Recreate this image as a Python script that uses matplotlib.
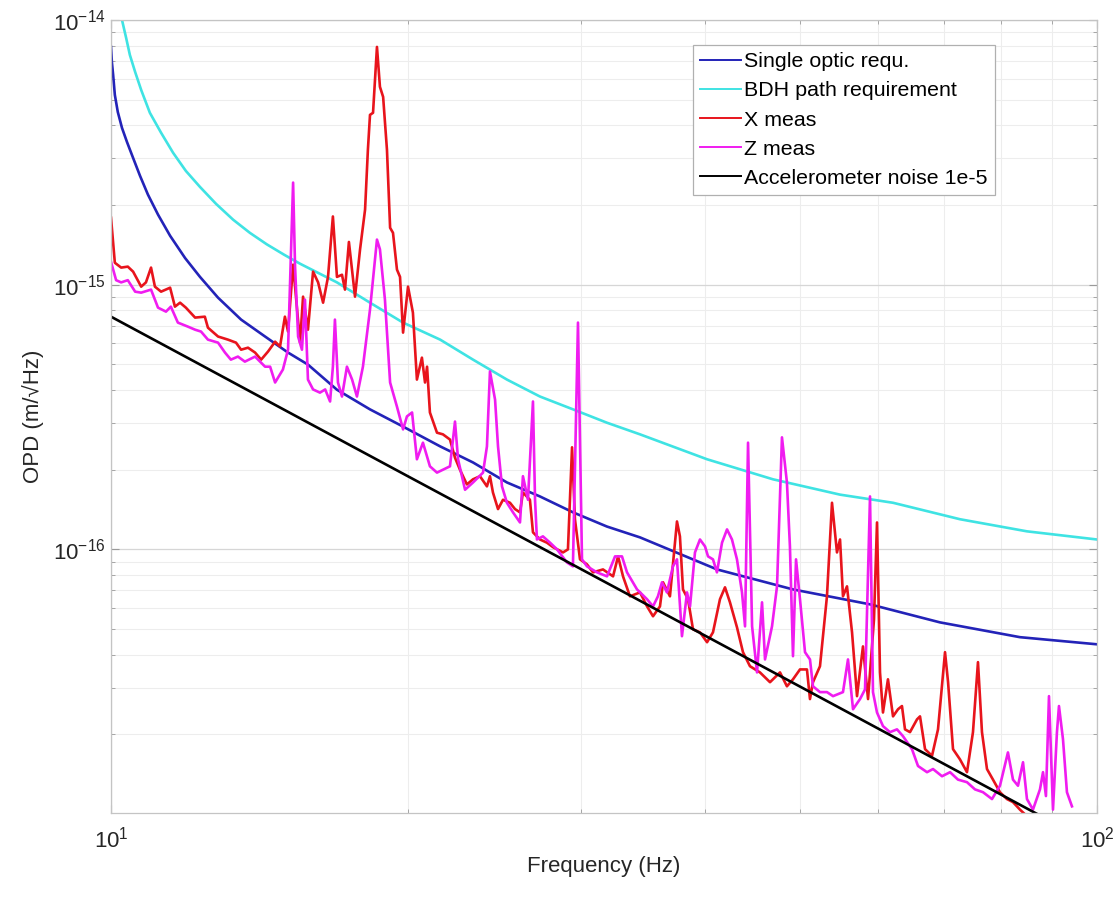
import numpy as np
import matplotlib
matplotlib.use("Agg")
import matplotlib.pyplot as plt
from matplotlib.ticker import FixedLocator, LogLocator, LogFormatterMathtext, NullFormatter

OUT_FILE = "out.png"
UNIT = 1e-16  # OPD values below are in units of 1e-16 m/sqrt(Hz)

# Single optic requirement (blue)
freq_single = [10.00, 10.02, 10.05, 10.09, 10.16, 10.26, 10.38, 10.53, 10.70, 10.90,
               11.16, 11.48, 11.89, 12.31, 12.84, 13.55, 14.33, 15.12, 15.84, 16.95,
               18.31, 19.78, 21.57, 23.29, 25.21, 27.23, 29.42, 31.84, 34.40, 41.18,
               49.17, 58.86, 69.31, 83.54, 100.0]
opd_single = [79.1, 69.4, 62.0, 52.1, 44.9, 39.1, 34.6, 30.1, 25.8, 21.9,
              18.4, 15.3, 12.6, 10.7, 8.93, 7.38, 6.37, 5.54, 4.99, 4.01,
              3.38, 2.91, 2.45, 2.13, 1.79, 1.585, 1.38, 1.22, 1.11, 0.840,
              0.706, 0.620, 0.530, 0.466, 0.438]

# BDH path requirement (cyan)
freq_bdh = [10.26, 10.36, 10.45, 10.58, 10.73, 10.95, 11.24, 11.56, 11.91, 12.31,
            12.78, 13.30, 13.83, 14.39, 14.98, 15.55, 16.95, 18.31, 19.78, 21.57,
            23.29, 25.21, 27.23, 29.42, 31.84, 34.40, 40.23, 46.92, 54.88, 62.11,
            72.62, 84.92, 100.0]
opd_bdh = [100.0, 85.5, 73.8, 63.6, 54.4, 44.6, 37.5, 31.5, 26.9, 23.4,
           20.2, 17.6, 15.7, 14.2, 12.98, 12.0, 10.2, 8.55, 7.19, 6.20,
           5.21, 4.38, 3.78, 3.38, 3.01, 2.72, 2.19, 1.84, 1.61, 1.50,
           1.30, 1.17, 1.09]

# X meas (red)
freq_x = [10.00, 10.09, 10.24, 10.40, 10.53, 10.73, 10.85, 10.98, 11.08, 11.24,
          11.48, 11.61, 11.75, 11.91, 12.17, 12.45, 12.54, 12.84, 13.14, 13.39,
          13.55, 13.77, 14.00, 14.20, 14.43, 14.67, 14.84, 15.01, 15.12, 15.30,
          15.55, 15.66, 15.84, 16.03, 16.22, 16.41, 16.60, 16.79, 16.95, 17.15,
          17.27, 17.43, 17.68, 17.89, 18.10, 18.22, 18.31, 18.44, 18.61, 18.74,
          18.88, 19.05, 19.19, 19.32, 19.50, 19.64, 19.78, 20.01, 20.24, 20.43,
          20.67, 20.82, 20.92, 21.06, 21.41, 21.71, 22.07, 22.33, 22.59, 22.96,
          23.29, 23.67, 24.06, 24.23, 24.40, 24.69, 24.98, 25.39, 25.69, 25.99,
          26.17, 26.60, 26.79, 27.23, 27.68, 28.07, 28.74, 29.07, 29.35, 29.55,
          29.90, 30.39, 30.82, 31.55, 32.30, 32.68, 33.06, 33.60, 34.40, 34.97,
          35.46, 36.04, 36.30, 36.89, 37.50, 37.76, 38.03, 38.48, 38.93, 39.57,
          40.23, 40.79, 41.46, 41.95, 42.44, 43.14, 43.75, 44.47, 45.52, 46.60,
          47.70, 48.48, 49.17, 49.98, 50.80, 51.16, 51.52, 52.37, 53.23, 53.86,
          54.49, 54.88, 55.26, 55.78, 56.44, 57.10, 57.90, 58.59, 59.41, 59.83,
          60.25, 60.67, 61.38, 62.11, 62.84, 63.42, 63.87, 64.62, 65.69, 66.15,
          66.93, 68.03, 68.99, 70.13, 70.63, 71.45, 72.62, 73.82, 74.86, 75.74,
          76.45, 77.35, 78.44, 79.73, 81.04, 82.19, 83.54, 85.52]
opd_x = [17.9, 12.1, 11.6, 11.7, 11.2, 9.83, 10.2, 11.6, 9.83, 9.41,
         9.74, 8.26, 8.55, 8.19, 7.51, 7.57, 6.88, 6.37, 6.20, 6.04,
         5.68, 5.78, 5.54, 5.21, 5.59, 6.09, 5.84, 7.57, 6.65, 11.9,
         6.04, 9.01, 6.76, 11.2, 10.2, 8.55, 10.7, 18.1, 10.7, 10.9,
         9.58, 14.5, 9.01, 13.6, 19.2, 32.3, 43.8, 44.6, 79.1, 55.9,
         51.2, 32.3, 16.4, 15.7, 11.4, 10.7, 6.59, 9.83, 7.84, 4.38,
         5.30, 4.27, 4.90, 3.29, 2.76, 2.72, 2.60, 2.22, 2.00, 1.76,
         1.84, 1.89, 1.73, 1.89, 1.64, 1.42, 1.54, 1.50, 1.42, 1.38,
         1.64, 1.54, 1.16, 1.09, 1.06, 1.02, 0.974, 1.00, 2.43, 1.30,
         0.917, 0.878, 0.819, 0.840, 0.791, 0.941, 0.791, 0.665, 0.688, 0.609,
         0.559, 0.609, 0.751, 0.665, 1.275, 1.12, 0.706, 0.648, 0.499, 0.486,
         0.446, 0.486, 0.648, 0.719, 0.631, 0.508, 0.409, 0.362, 0.343, 0.315,
         0.343, 0.304, 0.323, 0.352, 0.352, 0.272, 0.315, 0.362, 0.665, 1.50,
         0.974, 1.09, 0.665, 0.725, 0.486, 0.279, 0.430, 0.272, 0.544, 1.264,
         0.343, 0.242, 0.323, 0.234, 0.249, 0.256, 0.209, 0.204, 0.228, 0.234,
         0.176, 0.166, 0.209, 0.409, 0.315, 0.176, 0.161, 0.144, 0.204, 0.375,
         0.204, 0.148, 0.135, 0.121, 0.114, 0.111, 0.104, 0.0958]

# Z meas (magenta)
freq_z = [10.00, 10.12, 10.24, 10.40, 10.58, 10.73, 10.98, 11.16, 11.37, 11.50,
          11.69, 11.97, 12.17, 12.34, 12.54, 12.84, 13.05, 13.23, 13.45, 13.67,
          14.00, 14.33, 14.50, 14.67, 14.94, 15.12, 15.30, 15.37, 15.48, 15.62,
          15.73, 15.84, 16.03, 16.29, 16.49, 16.68, 16.79, 16.87, 16.99, 17.15,
          17.35, 17.56, 17.76, 18.01, 18.31, 18.61, 18.74, 18.96, 19.19, 19.50,
          19.78, 19.96, 20.20, 20.43, 20.72, 21.06, 21.41, 21.71, 22.07, 22.33,
          22.49, 22.86, 23.29, 23.84, 24.06, 24.23, 24.52, 24.69, 24.92, 25.21,
          25.57, 25.99, 26.17, 26.48, 26.79, 26.92, 27.04, 27.42, 27.88, 28.34,
          29.00, 29.41, 29.76, 30.04, 30.39, 31.11, 31.85, 32.45, 32.98, 33.37,
          34.16, 34.97, 35.46, 35.87, 36.21, 36.63, 37.15, 37.50, 37.94, 38.39,
          38.66, 39.11, 39.57, 40.04, 40.32, 40.79, 41.17, 41.66, 42.15, 42.64,
          43.14, 43.65, 43.96, 44.27, 44.69, 45.21, 45.74, 46.06, 46.82, 47.37,
          47.92, 48.48, 48.82, 49.17, 49.52, 49.98, 50.57, 51.16, 51.52, 52.37,
          53.23, 53.99, 55.26, 55.91, 56.57, 57.50, 58.18, 58.86, 59.27, 59.83,
          60.67, 61.67, 62.69, 63.57, 64.92, 65.84, 67.24, 68.19, 69.64, 70.96,
          72.28, 73.82, 75.21, 76.63, 78.26, 79.73, 81.23, 82.19, 83.16, 84.14,
          84.92, 86.12, 87.54, 88.16, 88.77, 89.40, 90.24, 91.08, 91.51, 92.37,
          93.23, 94.33]
opd_z = [12.2, 10.4, 10.2, 10.4, 9.41, 9.33, 9.58, 8.19, 7.91, 8.26,
         7.19, 6.94, 6.76, 6.65, 6.20, 6.04, 5.54, 5.21, 5.35, 5.12,
         5.35, 4.90, 4.90, 4.27, 4.78, 5.68, 24.3, 11.7, 6.37, 5.68,
         8.78, 4.38, 4.02, 3.91, 4.02, 3.62, 4.90, 7.38, 4.27, 3.78,
         4.90, 4.38, 3.78, 4.90, 8.05, 14.8, 13.6, 8.78, 4.27, 3.46,
         2.84, 3.18, 3.29, 2.19, 2.53, 2.06, 1.95, 2.00, 2.06, 3.04,
         2.19, 1.68, 1.79, 1.95, 2.45, 4.70, 3.68, 2.45, 1.73, 1.50,
         1.38, 1.264, 1.89, 1.54, 3.62, 1.54, 1.09, 1.12, 1.06, 1.00,
         0.893, 0.863, 7.19, 0.917, 0.863, 0.819, 0.791, 0.941, 0.941, 0.819,
         0.706, 0.648, 0.609, 0.665, 0.751, 0.688, 0.863, 0.917, 0.470, 0.688,
         0.609, 0.974, 1.09, 1.026, 0.941, 0.917, 0.819, 1.06, 1.19, 1.09,
         0.917, 0.688, 0.512, 2.53, 0.512, 0.343, 0.631, 0.384, 0.512, 0.725,
         2.65, 1.79, 1.026, 0.395, 0.917, 0.648, 0.409, 0.384, 0.304, 0.289,
         0.289, 0.279, 0.289, 0.384, 0.249, 0.272, 0.296, 1.585, 0.289, 0.242,
         0.215, 0.204, 0.209, 0.197, 0.176, 0.152, 0.144, 0.148, 0.139, 0.144,
         0.135, 0.132, 0.124, 0.121, 0.114, 0.128, 0.171, 0.135, 0.128, 0.157,
         0.114, 0.104, 0.124, 0.144, 0.117, 0.279, 0.104, 0.204, 0.256, 0.192,
         0.121, 0.107]

# Accelerometer noise 1e-5 (black, straight line in log-log)
freq_acc = [10.0, 20.0, 50.0, 100.0]
opd_acc = [7.57, 1.89, 0.303, 0.0757]

LABELS = ["Single optic requ.", "BDH path requirement", "X meas", "Z meas",
          "Accelerometer noise 1e-5"]
COLORS = ["#2323b8", "#3fe3e3", "#e8141c", "#f01cf0", "#000000"]
X_TICKS = [10, 100]
Y_TICKS = [1e-16, 1e-15, 1e-14]


def main():
    plt.rcParams["font.family"] = ["Liberation Sans", "DejaVu Sans"]
    plt.rcParams["mathtext.fontset"] = "custom"
    plt.rcParams["mathtext.rm"] = "Liberation Sans"
    plt.rcParams["mathtext.it"] = "Liberation Sans"

    fig = plt.figure(figsize=(11.19, 8.99), dpi=100)
    ax = fig.add_axes([0.0992, 0.0957, 0.8811, 0.8821])

    series = [(freq_single, opd_single), (freq_bdh, opd_bdh), (freq_x, opd_x),
              (freq_z, opd_z), (freq_acc, opd_acc)]
    for (f, v), lab, col in zip(series, LABELS, COLORS):
        ax.loglog(f, np.array(v) * UNIT, color=col, lw=1.9, label=lab)

    ax.set_xlim(10, 100)
    ax.set_ylim(1.01e-17, 1e-14)

    ax.xaxis.set_major_locator(FixedLocator(X_TICKS))
    ax.yaxis.set_major_locator(FixedLocator(Y_TICKS))
    ax.xaxis.set_major_formatter(LogFormatterMathtext())
    ax.yaxis.set_major_formatter(LogFormatterMathtext())
    ax.yaxis.set_minor_locator(LogLocator(base=10, subs=np.arange(2, 10), numticks=20))
    ax.yaxis.set_minor_formatter(NullFormatter())
    ax.xaxis.set_minor_locator(LogLocator(base=10, subs=np.arange(2, 10), numticks=20))
    ax.xaxis.set_minor_formatter(NullFormatter())

    ax.grid(True, which="major", color="#d6d6d6", lw=0.9)
    ax.grid(True, which="minor", color="#ededed", lw=0.8)
    ax.set_axisbelow(True)

    for sp in ax.spines.values():
        sp.set_color("#c4c4c4")
        sp.set_linewidth(0.9)
    ax.tick_params(which="both", direction="in", colors="#9a9a9a",
                   top=True, right=True, labelcolor="#262626", labelsize=16)
    ax.tick_params(axis="y", which="major", length=6, pad=4)
    ax.tick_params(axis="x", which="major", length=6, pad=10)
    ax.tick_params(which="minor", length=3)

    ax.set_xlabel("Frequency (Hz)", fontsize=16, color="#262626", labelpad=2)
    ax.set_ylabel("OPD (m/\u221aHz)", fontsize=16, color="#262626", labelpad=6)

    leg = ax.legend(loc="upper left", bbox_to_anchor=(0.590, 0.9685), borderaxespad=0,
                    fontsize=15.4, handlelength=1.9, handletextpad=0.15,
                    labelspacing=0.47, borderpad=0.35, fancybox=False,
                    framealpha=1, edgecolor="#b0b0b0")
    leg.get_frame().set_linewidth(0.9)
    for line in leg.get_lines():
        line.set_linewidth(1.4)

    fig.savefig(OUT_FILE, dpi=100)
    plt.close(fig)


if __name__ == "__main__":
    main()
